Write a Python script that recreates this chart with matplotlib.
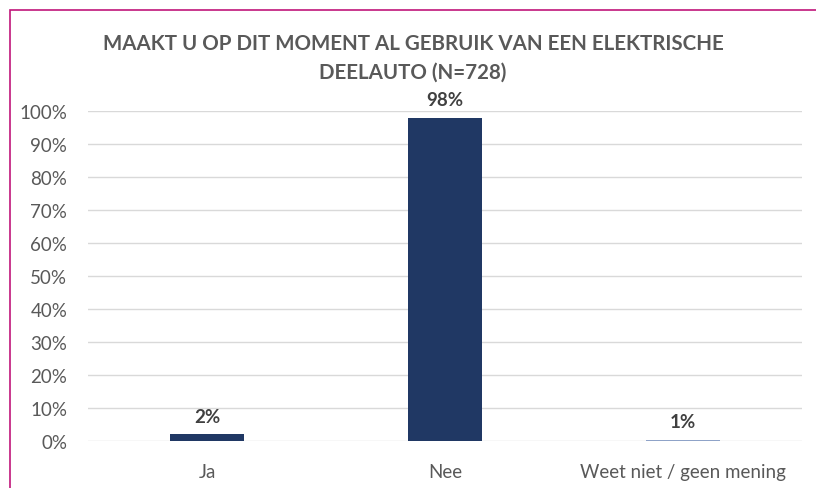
import matplotlib
matplotlib.use("Agg")
import matplotlib.pyplot as plt
from matplotlib.patches import Rectangle

categories = ["Ja", "Nee", "Weet niet / geen mening"]
values = [2, 98, 0.4]
value_labels = ["2%", "98%", "1%"]
bar_colors = ["#203864", "#203864", "#8FA3C8"]
yticks = list(range(0, 101, 10))
title = "MAAKT U OP DIT MOMENT AL GEBRUIK VAN EEN ELEKTRISCHE\nDEELAUTO (N=728)"

plt.rcParams['font.family'] = ['Lato', 'DejaVu Sans']

W, H = 816, 489
fig = plt.figure(figsize=(W / 100, H / 100), dpi=100)
ax = fig.add_axes([88 / W, 47 / H, 714 / W, 330 / H])

x = list(range(len(categories)))
ax.bar(x, values, width=0.31, color=bar_colors, zorder=3)
for xi, v, lab in zip(x, values, value_labels):
    ax.annotate(lab, (xi, v), xytext=(0, 7), textcoords="offset points",
                ha="center", va="bottom", fontsize=13.5, fontweight="bold",
                color="#404040")

ax.set_xlim(-0.5, len(categories) - 0.5)
ax.set_ylim(0, 100)
ax.set_yticks(yticks)
ax.set_yticklabels([f"{t}%" for t in yticks])
ax.set_xticks(x)
ax.set_xticklabels(categories)
ax.tick_params(axis="both", length=0, labelsize=13.5, labelcolor="#595959")
ax.tick_params(axis="x", pad=16)
ax.tick_params(axis="y", pad=15)
ax.grid(axis="y", color="#D9D9D9", linewidth=1, zorder=0)
for s in ax.spines.values():
    s.set_visible(False)

fig.text(413 / W, 1 - 58.5 / H, title, ha="center", va="center",
         fontsize=14.8, fontweight="bold", color="#595959", linespacing=1.5)

fig.patches.append(Rectangle((9.5 / W, -0.1), 2, (H - 10.5) / H + 0.1,
                             transform=fig.transFigure, fill=False,
                             edgecolor="#C0157A", linewidth=1.2))

fig.savefig("out.png", dpi=100)
